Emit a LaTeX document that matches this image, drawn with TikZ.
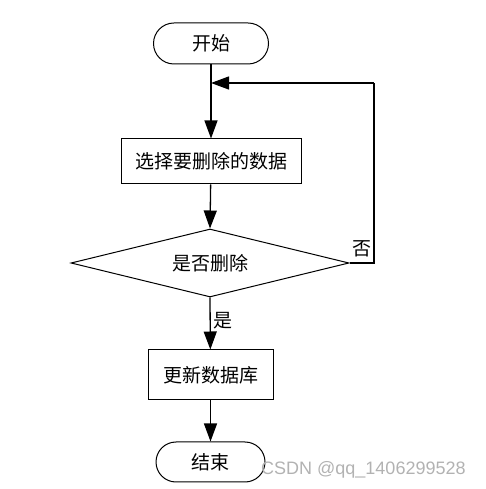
\documentclass[tikz,border=0pt]{standalone}
\usepackage{fontspec}
\setmainfont{Liberation Sans}
\newfontfamily\cjk{Noto Sans CJK SC}
\usetikzlibrary{shapes.geometric,shapes.misc,arrows.meta}
\begin{document}
\begin{tikzpicture}[x=1pt,y=1pt,
  every node/.style={font=\cjk\fontsize{19}{21}\selectfont},
  term/.style={draw,line width=1pt,rounded rectangle,minimum width=115pt,minimum height=41pt,inner sep=0pt},
  proc/.style={draw,line width=1pt,rectangle,inner sep=0pt},
  dec/.style={draw,line width=1pt,diamond,aspect=4.1,minimum width=278pt,minimum height=68pt,inner sep=0pt},
  conn/.style={line width=1.3pt,-{Triangle[length=18pt,width=13pt]}},
  lbl/.style={inner sep=1pt}]
\useasboundingbox (0,0) rectangle (486,489);
\node[term] (start) at (211,445.5) {开始};
\node[proc,minimum width=180pt,minimum height=45pt] (sel) at (211,327.5) {选择要删除的数据};
\node[dec] (q) at (210,226) {是否删除};
\node[proc,minimum width=125pt,minimum height=50pt] (upd) at (210.5,114) {更新数据库};
\node[term,minimum width=109pt,minimum height=40pt] (end) at (210.5,27) {结束};
\coordinate (loopR) at (374,226);
\coordinate (loopT) at (374,406);
\coordinate (join) at (211,406);
\draw[conn] (start) -- (sel);
\draw[conn] (sel) -- (q.north);
\draw[conn] (q.south) -- node[lbl,right,xshift=2pt,pos=0.45]{是} (upd);
\draw[conn] (upd) -- (end);
\draw[line width=1.3pt] (q.east) -- (loopR) -- (loopT);
\draw[conn] (loopT) -- (join);
\node[lbl] (no) at (362,240) {否};
\node[font=\fontsize{18}{20}\selectfont,text=black!30,inner sep=0pt,anchor=west] (wm) at (261,19.5) {CSDN @qq\_1406299528};
\end{tikzpicture}
\end{document}
